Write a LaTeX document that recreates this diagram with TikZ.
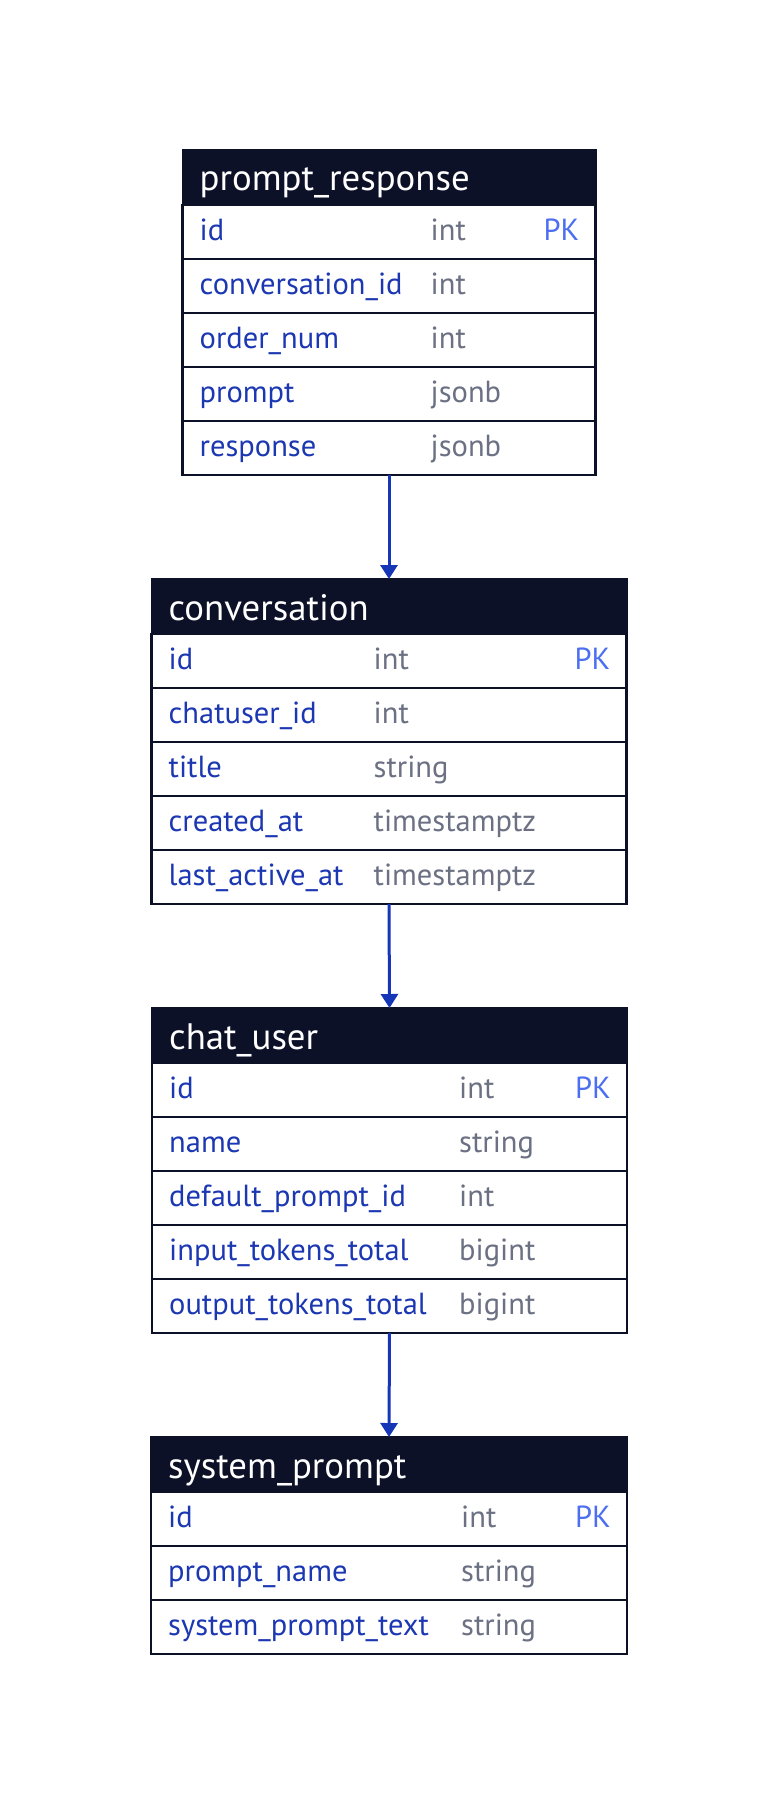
\documentclass[tikz,border=0pt]{standalone}
\usepackage{fontspec}
\setmainfont{PT Sans}
\usetikzlibrary{positioning}
\usetikzlibrary{arrows.meta}

\definecolor{hdrnavy}{RGB}{13,17,40}
\definecolor{fldblue}{RGB}{27,55,178}
\definecolor{typgrey}{RGB}{107,112,131}
\definecolor{pkblue}{RGB}{76,110,240}
\definecolor{fkblue}{RGB}{22,54,184}

\begin{document}
\begin{tikzpicture}[x=1pt, y=-1pt,
    tblhead/.style={draw=hdrnavy, fill=hdrnavy, line width=2pt, minimum height=55pt, inner sep=0pt, outer sep=0pt},
    tblrow/.style={draw=hdrnavy, fill=white, line width=2.8pt, minimum height=54pt, inner sep=0pt, outer sep=0pt},
    tbltitle/.style={anchor=base west, inner sep=0pt, text=white, font=\fontsize{36.8}{42}\selectfont},
    fld/.style={anchor=base west, inner sep=0pt, text=fldblue, font=\fontsize{30.5}{36}\selectfont},
    typ/.style={anchor=base west, inner sep=0pt, text=typgrey, font=\fontsize{30.5}{36}\selectfont},
    pk/.style={anchor=base east, inner sep=0pt, text=pkblue, font=\fontsize{30.5}{36}\selectfont},
    fk/.style={draw=fkblue, line width=3pt, -{Triangle[width=17pt, length=14pt]}}]

    \fill[white] (0,0) rectangle (778,1806);

    % prompt_response
    \node[tblhead, minimum width=413pt] (pr) at (389,177.5) {};
    \node[tbltitle] (prT) at ([xshift=17pt, yshift=-13.5pt]pr.west) {prompt\_response};
    \node[tblrow, minimum width=413pt, below=0pt of pr] (pr1) {};
    \node[tblrow, minimum width=413pt, below=0pt of pr1] (pr2) {};
    \node[tblrow, minimum width=413pt, below=0pt of pr2] (pr3) {};
    \node[tblrow, minimum width=413pt, below=0pt of pr3] (pr4) {};
    \node[tblrow, minimum width=413pt, below=0pt of pr4] (pr5) {};
    \node[fld] (pr1f) at ([xshift=17pt, yshift=-8pt]pr1.west) {id};
    \node[typ] (pr1t) at ([xshift=248pt, yshift=-8pt]pr1.west) {int};
    \node[pk] (pr1k) at ([xshift=-16pt, yshift=-8pt]pr1.east) {PK};
    \node[fld] (pr2f) at ([xshift=17pt, yshift=-8pt]pr2.west) {conversation\_id};
    \node[typ] (pr2t) at ([xshift=248pt, yshift=-8pt]pr2.west) {int};
    \node[fld] (pr3f) at ([xshift=17pt, yshift=-8pt]pr3.west) {order\_num};
    \node[typ] (pr3t) at ([xshift=248pt, yshift=-8pt]pr3.west) {int};
    \node[fld] (pr4f) at ([xshift=17pt, yshift=-8pt]pr4.west) {prompt};
    \node[typ] (pr4t) at ([xshift=248pt, yshift=-8pt]pr4.west) {jsonb};
    \node[fld] (pr5f) at ([xshift=17pt, yshift=-8pt]pr5.west) {response};
    \node[typ] (pr5t) at ([xshift=248pt, yshift=-8pt]pr5.west) {jsonb};

    % conversation
    \node[tblhead, minimum width=475pt] (cv) at (389,606.5) {};
    \node[tbltitle] (cvT) at ([xshift=17pt, yshift=-13.5pt]cv.west) {conversation};
    \node[tblrow, minimum width=475pt, below=0pt of cv] (cv1) {};
    \node[tblrow, minimum width=475pt, below=0pt of cv1] (cv2) {};
    \node[tblrow, minimum width=475pt, below=0pt of cv2] (cv3) {};
    \node[tblrow, minimum width=475pt, below=0pt of cv3] (cv4) {};
    \node[tblrow, minimum width=475pt, below=0pt of cv4] (cv5) {};
    \node[fld] (cv1f) at ([xshift=17pt, yshift=-8pt]cv1.west) {id};
    \node[typ] (cv1t) at ([xshift=222pt, yshift=-8pt]cv1.west) {int};
    \node[pk] (cv1k) at ([xshift=-16pt, yshift=-8pt]cv1.east) {PK};
    \node[fld] (cv2f) at ([xshift=17pt, yshift=-8pt]cv2.west) {chatuser\_id};
    \node[typ] (cv2t) at ([xshift=222pt, yshift=-8pt]cv2.west) {int};
    \node[fld] (cv3f) at ([xshift=17pt, yshift=-8pt]cv3.west) {title};
    \node[typ] (cv3t) at ([xshift=222pt, yshift=-8pt]cv3.west) {string};
    \node[fld] (cv4f) at ([xshift=17pt, yshift=-8pt]cv4.west) {created\_at};
    \node[typ] (cv4t) at ([xshift=222pt, yshift=-8pt]cv4.west) {timestamptz};
    \node[fld] (cv5f) at ([xshift=17pt, yshift=-8pt]cv5.west) {last\_active\_at};
    \node[typ] (cv5t) at ([xshift=222pt, yshift=-8pt]cv5.west) {timestamptz};

    % chat_user
    \node[tblhead, minimum width=475pt] (cu) at (389.5,1035.5) {};
    \node[tbltitle] (cuT) at ([xshift=17pt, yshift=-13.5pt]cu.west) {chat\_user};
    \node[tblrow, minimum width=475pt, below=0pt of cu] (cu1) {};
    \node[tblrow, minimum width=475pt, below=0pt of cu1] (cu2) {};
    \node[tblrow, minimum width=475pt, below=0pt of cu2] (cu3) {};
    \node[tblrow, minimum width=475pt, below=0pt of cu3] (cu4) {};
    \node[tblrow, minimum width=475pt, below=0pt of cu4] (cu5) {};
    \node[fld] (cu1f) at ([xshift=17pt, yshift=-8pt]cu1.west) {id};
    \node[typ] (cu1t) at ([xshift=307pt, yshift=-8pt]cu1.west) {int};
    \node[pk] (cu1k) at ([xshift=-16pt, yshift=-8pt]cu1.east) {PK};
    \node[fld] (cu2f) at ([xshift=17pt, yshift=-8pt]cu2.west) {name};
    \node[typ] (cu2t) at ([xshift=307pt, yshift=-8pt]cu2.west) {string};
    \node[fld] (cu3f) at ([xshift=17pt, yshift=-8pt]cu3.west) {default\_prompt\_id};
    \node[typ] (cu3t) at ([xshift=307pt, yshift=-8pt]cu3.west) {int};
    \node[fld] (cu4f) at ([xshift=17pt, yshift=-8pt]cu4.west) {input\_tokens\_total};
    \node[typ] (cu4t) at ([xshift=307pt, yshift=-8pt]cu4.west) {bigint};
    \node[fld] (cu5f) at ([xshift=17pt, yshift=-8pt]cu5.west) {output\_tokens\_total};
    \node[typ] (cu5t) at ([xshift=307pt, yshift=-8pt]cu5.west) {bigint};

    % system_prompt
    \node[tblhead, minimum width=476pt] (sp) at (389,1464.5) {};
    \node[tbltitle] (spT) at ([xshift=17pt, yshift=-13.5pt]sp.west) {system\_prompt};
    \node[tblrow, minimum width=476pt, below=0pt of sp] (sp1) {};
    \node[tblrow, minimum width=476pt, below=0pt of sp1] (sp2) {};
    \node[tblrow, minimum width=476pt, below=0pt of sp2] (sp3) {};
    \node[fld] (sp1f) at ([xshift=17pt, yshift=-8pt]sp1.west) {id};
    \node[typ] (sp1t) at ([xshift=310pt, yshift=-8pt]sp1.west) {int};
    \node[pk] (sp1k) at ([xshift=-16pt, yshift=-8pt]sp1.east) {PK};
    \node[fld] (sp2f) at ([xshift=17pt, yshift=-8pt]sp2.west) {prompt\_name};
    \node[typ] (sp2t) at ([xshift=310pt, yshift=-8pt]sp2.west) {string};
    \node[fld] (sp3f) at ([xshift=17pt, yshift=-8pt]sp3.west) {system\_prompt\_text};
    \node[typ] (sp3t) at ([xshift=310pt, yshift=-8pt]sp3.west) {string};

    % links
    \draw[fk] (pr5.south) -- (cv.north);
    \draw[fk] (cv5.south) -- (cu.north);
    \draw[fk] (cu5.south) -- (sp.north);

\end{tikzpicture}
\end{document}
